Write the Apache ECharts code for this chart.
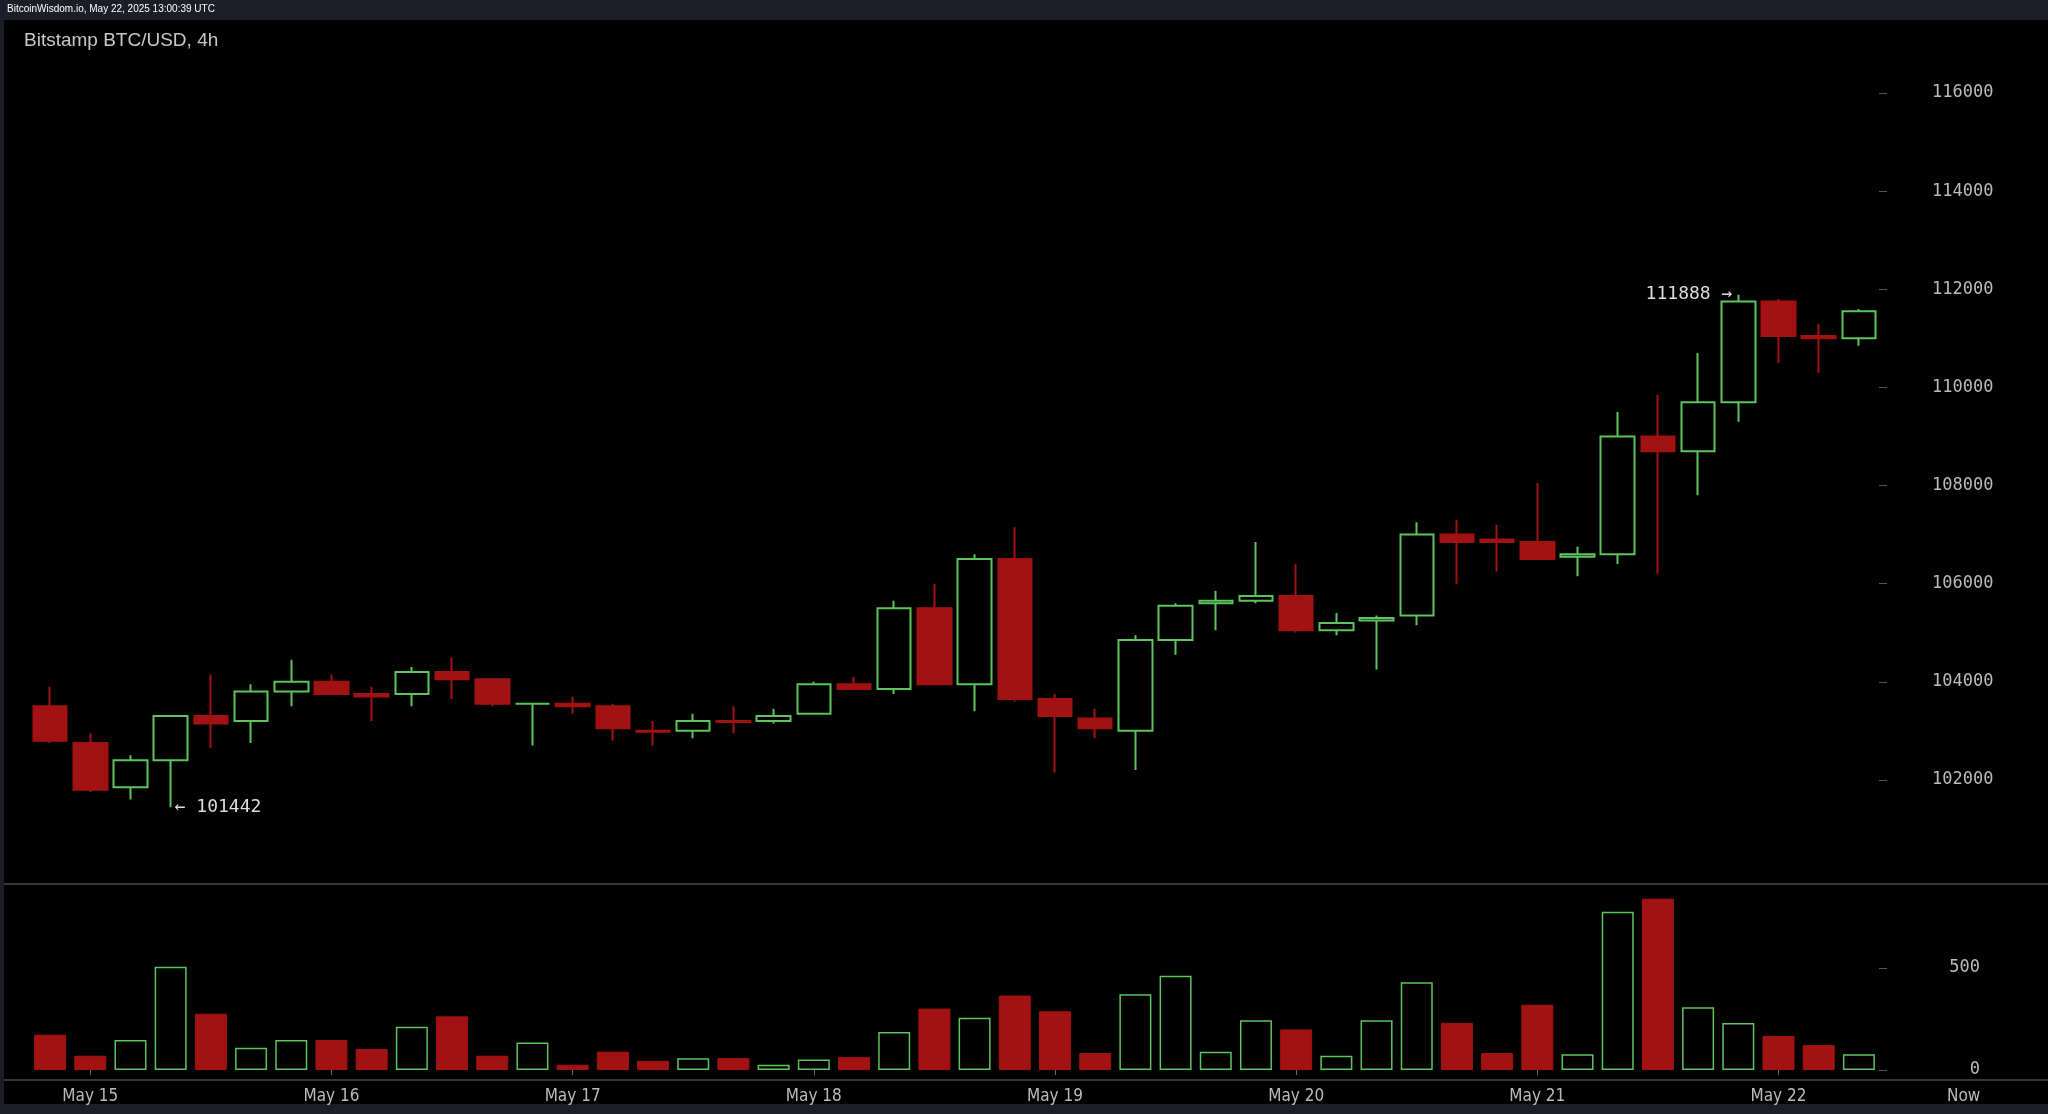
<!DOCTYPE html>
<html><head><meta charset="utf-8">
<script src="https://cdn.jsdelivr.net/npm/echarts@6/dist/echarts.min.js"></script>
<style>html,body{margin:0;padding:0;background:#1b1e27;}#c{width:2048px;height:1114px;}</style>
</head><body><div id="c"></div>
<script>
const opens  = [103500,102750,101850,102400,103300,103200,103800,104000,103750,103750,104200,104050,103550,103550,103500,103000,103000,103200,103200,103350,103950,103850,105500,103950,106500,103650,103250,103000,104850,105600,105650,105750,105050,105250,105350,107000,106900,106850,106550,106600,109000,108700,109700,111750,111050,111000];
const closes = [102800,101800,102400,103300,103150,103800,104000,103750,103700,104200,104050,103550,103550,103500,103050,102980,103200,103180,103300,103950,103850,105500,103950,106500,103650,103300,103050,104850,105550,105650,105750,105050,105200,105300,107000,106850,106850,106500,106600,109000,108700,109700,111750,111050,111000,111550];
const highs  = [103900,102950,102500,103320,104150,103950,104450,104150,103900,104300,104500,104050,103550,103700,103550,103200,103350,103500,103450,104000,104100,105650,106000,106600,107150,103750,103450,104950,105600,105850,106850,106400,105400,105350,107250,107300,107200,108050,106750,109500,109850,110700,111888,111800,111300,111600];
const lows   = [102750,101750,101600,101442,102650,102750,103500,103750,103200,103500,103650,103500,102700,103350,102800,102700,102850,102950,103150,103350,103850,103750,103950,103400,103600,102150,102850,102200,104550,105050,105600,105000,104950,104250,105150,106000,106250,106500,106150,106400,106200,107800,109300,110500,110300,110850];
const volumes= [173,70,147,506,276,109,147,147,103,212,263,70,135,26,90,45,58,58,26,51,64,186,301,256,365,288,83,372,462,90,244,199,70,244,430,231,83,320,77,776,840,308,231,167,122,77];
const priceTicks = {min:100000, max:117000, interval:2000};
const volTicks = {min:0, max:912, interval:500};
const startTime = Date.UTC(2025,4,14,20);
const months = ['Jan','Feb','Mar','Apr','May','Jun','Jul','Aug','Sep','Oct','Nov','Dec'];
const categories = opens.map((_,i)=>{const d=new Date(startTime+i*4*3600e3);return months[d.getUTCMonth()]+' '+d.getUTCDate()+' '+String(d.getUTCHours()).padStart(2,'0')+':00';});

const UP='#5ec45e', DN='#a31212';
const chart = echarts.init(document.getElementById('c'));
const kdata = opens.map((o,i)=>[o,closes[i],lows[i],highs[i]]);
const vdata = volumes.map((v,i)=>({value:v,itemStyle: closes[i]>=opens[i]?{color:'#000',borderColor:UP,borderWidth:1.5}:{color:DN,borderColor:DN,borderWidth:1}}));
const mono='DejaVu Sans Mono';
const gl=30, gr=169;
chart.setOption({
  backgroundColor:'#000',
  animation:false,
  graphic:[
    {type:'rect',shape:{x:0,y:0,width:2048,height:20},style:{fill:'#1b1e27'}},
    {type:'rect',shape:{x:0,y:0,width:4,height:1114},style:{fill:'#1b1e27'}},
    {type:'rect',shape:{x:0,y:1104,width:2048,height:10},style:{fill:'#1b1e27'}},
    {type:'text',left:7,top:4,style:{text:'BitcoinWisdom.io, May 22, 2025 13:00:39 UTC',fill:'#fff',font:'10px Liberation Sans'}},
    {type:'text',left:24,top:31,style:{text:'Bitstamp BTC/USD, 4h',fill:'#c8c8c8',font:'19px Liberation Sans'}},
    {type:'line',shape:{x1:4,y1:884,x2:2048,y2:884},style:{stroke:'#4a4a4a',lineWidth:1.5}},
    {type:'line',shape:{x1:4,y1:1080,x2:2048,y2:1080},style:{stroke:'#4a4a4a',lineWidth:1.5}},
    {type:'text',left:1947,top:1088,style:{text:'Now',fill:'#bbb',font:'17px DejaVu Sans Condensed'}}
  ],
  grid:[
    {left:gl,right:gr,top:44,bottom:1114-878},
    {left:gl,right:gr,top:884,bottom:1114-1070}
  ],
  xAxis:[
    {type:'category',data:categories,gridIndex:0,show:false,boundaryGap:true},
    {type:'category',data:categories,gridIndex:1,boundaryGap:true,offset:10,
     axisLine:{show:false},
     axisTick:{show:true,alignWithLabel:true,interval:(i)=>categories[i].endsWith('00:00'),lineStyle:{color:'#666'},length:5},
     axisLabel:{interval:(i)=>categories[i].endsWith('00:00'),formatter:(v)=>v.slice(0,-6),color:'#bbb',fontFamily:'DejaVu Sans Condensed',fontSize:17,margin:8}}
  ],
  yAxis:[
    {type:'value',gridIndex:0,position:'right',min:priceTicks.min,max:priceTicks.max,interval:priceTicks.interval,
     splitLine:{show:false},axisLine:{show:false},axisTick:{show:true,length:8,lineStyle:{color:'#555'}},
     axisLabel:{showMinLabel:false,showMaxLabel:false,color:'#bbb',fontFamily:mono,fontSize:17,margin:53,formatter:(v)=>String(v)}},
    {type:'value',gridIndex:1,position:'right',min:volTicks.min,max:volTicks.max,interval:volTicks.interval,
     splitLine:{show:false},axisLine:{show:false},axisTick:{show:true,length:8,lineStyle:{color:'#555'}},
     axisLabel:{showMaxLabel:false,color:'#bbb',fontFamily:mono,fontSize:17,margin:101,align:'right',formatter:(v)=>String(v)}}
  ],
  series:[
    {type:'candlestick',xAxisIndex:0,yAxisIndex:0,data:kdata,barWidth:34,
     itemStyle:{color:'#000',color0:DN,borderColor:UP,borderColor0:DN,borderWidth:2},
     markPoint:{symbol:'circle',symbolSize:0,silent:true,
       data:[
         {coord:[3,101442],label:{show:true,position:'right',distance:4,formatter:'← 101442',color:'#ddd',fontFamily:mono,fontSize:18}},
         {coord:[42,111888],label:{show:true,position:'left',distance:6,formatter:'111888 →',color:'#ddd',fontFamily:mono,fontSize:18}}
       ]}},
    {type:'bar',xAxisIndex:1,yAxisIndex:1,data:vdata,barWidth:32}
  ]
});
</script></body></html>
